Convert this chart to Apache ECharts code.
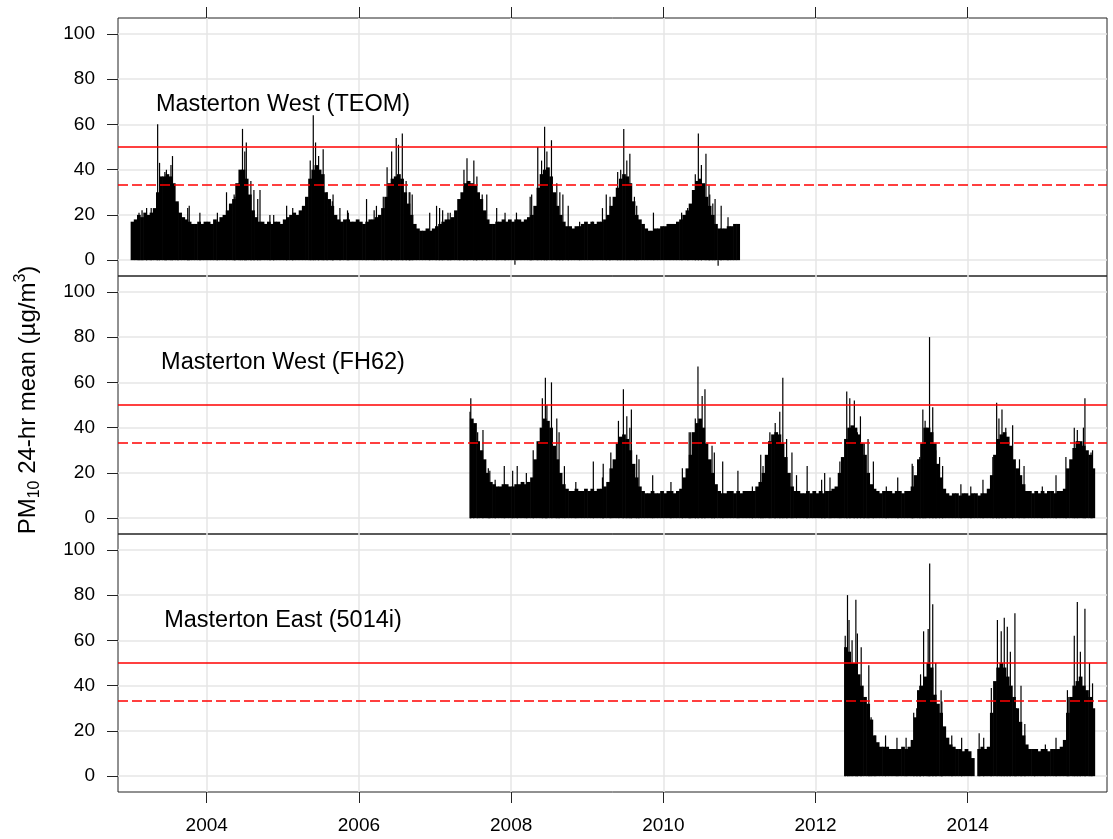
<!DOCTYPE html>
<html><head><meta charset="utf-8">
<script src="https://cdn.jsdelivr.net/npm/echarts@6/dist/echarts.min.js"></script>
<style>html,body{margin:0;padding:0;background:#fff}#c{width:1113px;height:839px}</style>
</head><body><div id="c"></div>
<script>
// ---------- data ----------
const xTicks = [2004, 2006, 2008, 2010, 2012, 2014];
const yTicks = [0, 20, 40, 60, 80, 100];
const X_MIN = 2002.834, X_MAX = 2015.83;
const Y_MIN = -7, Y_MAX = 107;
const LIMIT = 50;      // solid red
const GUIDE = 33.3;    // dashed red
const STEP = 1 / 24;   // half-month bins

const panelNames = ['Masterton West (TEOM)', 'Masterton West (FH62)', 'Masterton East (5014i)'];

// half-month typical levels, TEOM from Jan 2003
const teomStart = 2003.0;
const teomValues = [
  17,18, 20,19, 21,20, 21,23, 30,37, 37,38, 37,34, 26,21, 19,18, 17,16, 16,17, 16,17,
  17,16, 18,17, 19,20, 22,25, 27,34, 40,40, 36,29, 22,19, 17,17, 16,17, 16,17, 17,16,
  18,19, 20,21, 20,22, 24,28, 36,40, 42,40, 38,30, 27,24, 20,18, 17,18, 18,17, 17,18,
  17,16, 17,18, 18,19, 20,23, 28,34, 36,37, 38,36, 30,25, 20,16, 14,13, 13,14, 13,14,
  15,16, 17,18, 18,19, 22,27, 30,34, 35,34, 33,30, 27,22, 18,16, 16,17, 17,18, 17,18,
  17,18, 18,17, 18,19, 20,24, 32,38, 40,41, 37,30, 24,20, 17,15, 15,14, 15,15, 16,17,
  16,17, 16,17, 17,18, 20,24, 28,32, 36,38, 37,34, 26,20, 18,16, 14,13, 13,14, 14,15,
  15,16, 16,16, 17,18, 20,22, 25,31, 35,36, 34,28, 24,20, 16,14, 14,14, 15,15, 16,16
];
// FH62 from second half of June 2007
const fh62Start = 2007 + 11 / 24;
const fh62Values = [
  44, 42,34, 30,26, 20,16, 15,14, 14,15, 15,14,
  14,15, 15,16, 15,16, 18,26, 34,40, 44,43, 40,32, 26,20, 15,13, 12,12, 13,12, 12,13,
  12,13, 12,13, 13,14, 16,22, 26,33, 36,37, 35,30, 24,18, 14,12, 11,11, 12,11, 11,12,
  11,12, 12,11, 12,13, 18,22, 28,38, 42,44, 40,33, 26,20, 15,12, 11,11, 12,12, 11,12,
  11,12, 12,12, 12,14, 16,20, 28,34, 37,38, 37,33, 27,20, 14,12, 12,11, 11,12, 11,12,
  11,12, 11,12, 12,13, 14,20, 27,35, 40,41, 40,37, 33,28, 20,15, 13,12, 11,12, 12,12,
  11,12, 12,11, 12,12, 14,19, 26,33, 40,40, 38,33, 24,18, 13,11, 10,11, 11,10, 11,11,
  10,11, 11,10, 11,11, 13,19, 28,35, 37,38, 36,32, 26,22, 19,15, 12,12, 11,12, 11,12,
  11,12, 12,11, 12,12, 13,22, 26,31, 34,34, 32,30, 28,22
];
// 5014i from second half of May 2012
const eastStart = 2012 + 9 / 24;
const eastValues = [
  57, 55,50, 50,45, 40,35, 32,25, 18,15, 13,13, 13,12,
  12,12, 12,13, 12,13, 16,26, 38,40, 44,50, 48,36, 32,28, 22,17, 14,13, 12,12, 11,12,
  11,8, null,12, 13,12, 13,28, 42,48, 50,48, 44,40, 35,30, 24,18, 14,12, 12,12, 11,12,
  12,11, 12,12, 12,13, 16,28, 35,40, 42,44, 40,38, 35,30
];

// individual daily peaks [decimal year, value]
const teomPeaks = [
  [2003.11,21],[2003.15,22],[2003.21,23],[2003.27,23],[2003.355,60],[2003.38,43],[2003.45,39],[2003.47,40],
  [2003.53,42],[2003.55,46],[2003.62,25],[2003.75,23],[2003.77,24],[2003.91,21],
  [2004.14,21],[2004.26,30],[2004.36,29],[2004.37,28],[2004.44,39],[2004.47,58],[2004.50,48],[2004.52,52],
  [2004.58,35],[2004.62,31],[2004.67,27],[2004.70,31],[2004.83,20],[2004.88,20],
  [2005.05,24],[2005.13,23],[2005.36,44],[2005.40,64],[2005.43,52],[2005.47,46],[2005.53,49],[2005.58,30],
  [2005.65,26],[2005.66,29],[2005.75,23],[2005.85,22],[2005.86,21],
  [2006.10,27],[2006.2,22],[2006.23,24],[2006.32,28],[2006.37,41],[2006.43,48],[2006.49,54],[2006.52,51],
  [2006.57,56],[2006.62,35],[2006.66,30],[2006.67,30],[2006.70,29],[2006.93,21],
  [2007.02,24],[2007.06,23],[2007.1,22],[2007.17,21],[2007.2,21],[2007.32,24],[2007.38,40],[2007.42,45],
  [2007.51,44],[2007.54,33],[2007.55,37],[2007.62,29],[2007.68,29],[2007.81,23],[2007.92,21],
  [2008.05,-2],[2008.07,21],[2008.25,28],[2008.27,29],[2008.35,50],[2008.40,44],[2008.44,59],[2008.47,48],
  [2008.53,53],[2008.60,34],[2008.64,30],[2008.68,29],[2008.75,24],[2008.90,17],
  [2009.07,17],[2009.2,23],[2009.25,29],[2009.3,28],[2009.40,39],[2009.44,40],[2009.48,58],[2009.52,44],
  [2009.56,47],[2009.62,28],[2009.65,24],[2009.87,21],
  [2010.24,21],[2010.32,23],[2010.42,38],[2010.46,56],[2010.50,42],[2010.56,47],[2010.60,33],[2010.61,29],
  [2010.65,25],[2010.68,27],[2010.72,-2.5],[2010.76,24],[2010.85,19]
];
const fh62Peaks = [
  [2007.46,47],[2007.47,53],[2007.51,40],[2007.56,38],[2007.63,39],[2007.70,22],[2007.72,21],[2007.79,17],[2007.91,23],
  [2008.02,21],[2008.08,23],[2008.20,20],[2008.29,30],[2008.41,53],[2008.45,62],[2008.47,50],[2008.53,60],
  [2008.60,44],[2008.63,38],[2008.70,23],[2008.85,16],
  [2009.08,25],[2009.2,18],[2009.21,24],[2009.31,29],[2009.41,43],[2009.475,57],[2009.52,45],[2009.56,40],
  [2009.58,48],[2009.65,28],[2009.68,26],[2009.86,19],
  [2010.1,16],[2010.25,22],[2010.34,38],[2010.36,38],[2010.42,44],[2010.455,67],[2010.51,54],[2010.547,57],
  [2010.64,32],[2010.67,29],[2010.78,25],[2010.98,21],
  [2011.17,14],[2011.28,28],[2011.31,23],[2011.40,38],[2011.47,42],[2011.53,47],[2011.57,62],[2011.62,35],
  [2011.69,29],[2011.75,19],[2011.89,23],
  [2012.08,17],[2012.12,20],[2012.19,18],[2012.32,25],[2012.41,56],[2012.45,53],[2012.51,52],[2012.55,38],
  [2012.59,45],[2012.64,33],[2012.69,35],[2012.76,25],[2012.93,14],
  [2013.08,18],[2013.27,24],[2013.28,23],[2013.37,27],[2013.41,48],[2013.44,43],[2013.498,80],[2013.54,49],
  [2013.58,30],[2013.63,27],[2013.67,23],[2013.91,15],
  [2014.04,14],[2014.20,17],[2014.33,27],[2014.38,51],[2014.41,44],[2014.45,48],[2014.50,40],[2014.59,41],
  [2014.68,26],[2014.74,23],[2014.98,14],
  [2015.16,19],[2015.29,27],[2015.40,40],[2015.44,39],[2015.52,40],[2015.54,53],[2015.62,29],[2015.64,30]
];
const eastPeaks = [
  [2012.39,62],[2012.42,80],[2012.44,69],[2012.48,60],[2012.53,78],[2012.55,63],[2012.60,57],[2012.70,49],
  [2012.73,26],[2012.78,18],[2012.92,18],
  [2013.07,17],[2013.19,17],[2013.29,28],[2013.33,30],[2013.37,40],[2013.38,45],[2013.42,64],[2013.48,65],
  [2013.50,94],[2013.54,76],[2013.58,50],[2013.65,38],[2013.66,33],[2013.79,18],[2013.92,17],
  [2014.15,19],[2014.21,17],[2014.31,39],[2014.39,69],[2014.44,64],[2014.48,70],[2014.52,66],[2014.56,55],
  [2014.62,72],[2014.64,30],[2014.70,40],[2014.75,23],[2014.88,12],
  [2015.02,14],[2015.16,17],[2015.31,38],[2015.32,35],[2015.40,62],[2015.44,77],[2015.48,55],[2015.54,74],
  [2015.60,50],[2015.62,28],[2015.64,41]
];

// ---------- layout ----------
const GRID_LEFT = 118, GRID_RIGHT = 6, GRID_H = 258;
const gridTops = [18, 276, 534];
const FONT = 'Liberation Sans, Arial, sans-serif';

const panelData = [
  {start: teomStart, values: teomValues, peaks: teomPeaks},
  {start: fh62Start, values: fh62Values, peaks: fh62Peaks},
  {start: eastStart, values: eastValues, peaks: eastPeaks}
];

function renderMass(params, api) {
  const xc = api.value(0), v = api.value(1);
  if (v == null || isNaN(v)) return null;
  const a = api.coord([xc - STEP / 2, v]);
  const b = api.coord([xc + STEP / 2, 0]);
  return {type: 'rect', shape: {x: a[0], y: a[1], width: b[0] - a[0] + 0.6, height: b[1] - a[1]},
          style: {fill: '#000'}};
}
function renderPeak(params, api) {
  const x = api.value(0), v = api.value(1);
  const a = api.coord([x, 0]), b = api.coord([x, v]);
  return {type: 'line', shape: {x1: a[0], y1: a[1], x2: b[0], y2: b[1]},
          style: {stroke: '#000', lineWidth: 1.2}};
}

const grids = [], xAxes = [], yAxes = [], series = [];
panelData.forEach((p, i) => {
  grids.push({left: GRID_LEFT, right: GRID_RIGHT, top: gridTops[i], height: GRID_H,
              show: true, borderColor: '#222', borderWidth: 1, backgroundColor: 'transparent',
              outerBoundsMode: 'none'});
  xAxes.push({
    type: 'value', gridIndex: i, min: X_MIN, max: X_MAX, splitNumber: 6,
    position: i === 0 ? 'top' : 'bottom',
    axisLine: {show: false, onZero: false},
    axisTick: {show: i !== 1, customValues: xTicks, length: 11, inside: false,
               lineStyle: {color: '#222', width: 1}},
    axisLabel: {show: i === 2, customValues: xTicks, fontSize: 19, color: '#000',
                fontFamily: FONT, margin: 24, formatter: v => String(v)},
    splitLine: {show: true, lineStyle: {color: '#e6e6e6', width: 1.5}}
  });
  yAxes.push({
    type: 'value', gridIndex: i, min: Y_MIN, max: Y_MAX,
    axisLine: {show: false, onZero: false},
    axisTick: {show: true, customValues: yTicks, length: 11, inside: false,
               lineStyle: {color: '#222', width: 1}},
    axisLabel: {show: true, customValues: yTicks, fontSize: 19, color: '#000',
                fontFamily: FONT, margin: 23},
    splitLine: {show: true, lineStyle: {color: '#e6e6e6', width: 1.5}}
  });
  series.push({
    type: 'custom', xAxisIndex: i, yAxisIndex: i, clip: true, silent: true,
    renderItem: renderMass, encode: {x: 0, y: 1},
    data: p.values.map((v, k) => [p.start + (k + 0.5) * STEP, v]),
    markLine: {
      symbol: 'none', silent: true, label: {show: false}, animation: false,
      data: [
        {yAxis: LIMIT, lineStyle: {color: '#ff0000', width: 1.5, type: 'solid'}},
        {yAxis: GUIDE, lineStyle: {color: '#ff0000', width: 1.5, type: [10, 4]}}
      ]
    }
  });
  series.push({
    type: 'custom', xAxisIndex: i, yAxisIndex: i, clip: true, silent: true,
    renderItem: renderPeak, encode: {x: 0, y: 1}, data: p.peaks
  });
});

const graphics = panelNames.map((name, i) => ({
  type: 'text', x: 283, y: gridTops[i] + 86.5, silent: true, z: 100,
  style: {text: name, font: '23.5px ' + FONT, fill: '#000', align: 'center', verticalAlign: 'middle'}
}));
graphics.push({
  type: 'text', x: 28, y: 400, rotation: Math.PI / 2, silent: true, z: 100,
  style: {
    text: '{m|PM}{s|10}{m| 24-hr mean (µg/m}{p|3}{m|)}',
    align: 'center', verticalAlign: 'middle', fill: '#000',
    rich: {
      m: {fontSize: 24, fontFamily: FONT, lineHeight: 30, verticalAlign: 'middle', fill: '#000'},
      s: {fontSize: 16, fontFamily: FONT, lineHeight: 16, verticalAlign: 'bottom', fill: '#000'},
      p: {fontSize: 16, fontFamily: FONT, lineHeight: 16, verticalAlign: 'top', fill: '#000'}
    }
  }
});

const chart = echarts.init(document.getElementById('c'), null, {renderer: 'canvas'});
chart.setOption({
  animation: false,
  backgroundColor: '#fff',
  grid: grids, xAxis: xAxes, yAxis: yAxes, series: series,
  graphic: graphics
});
</script></body></html>
